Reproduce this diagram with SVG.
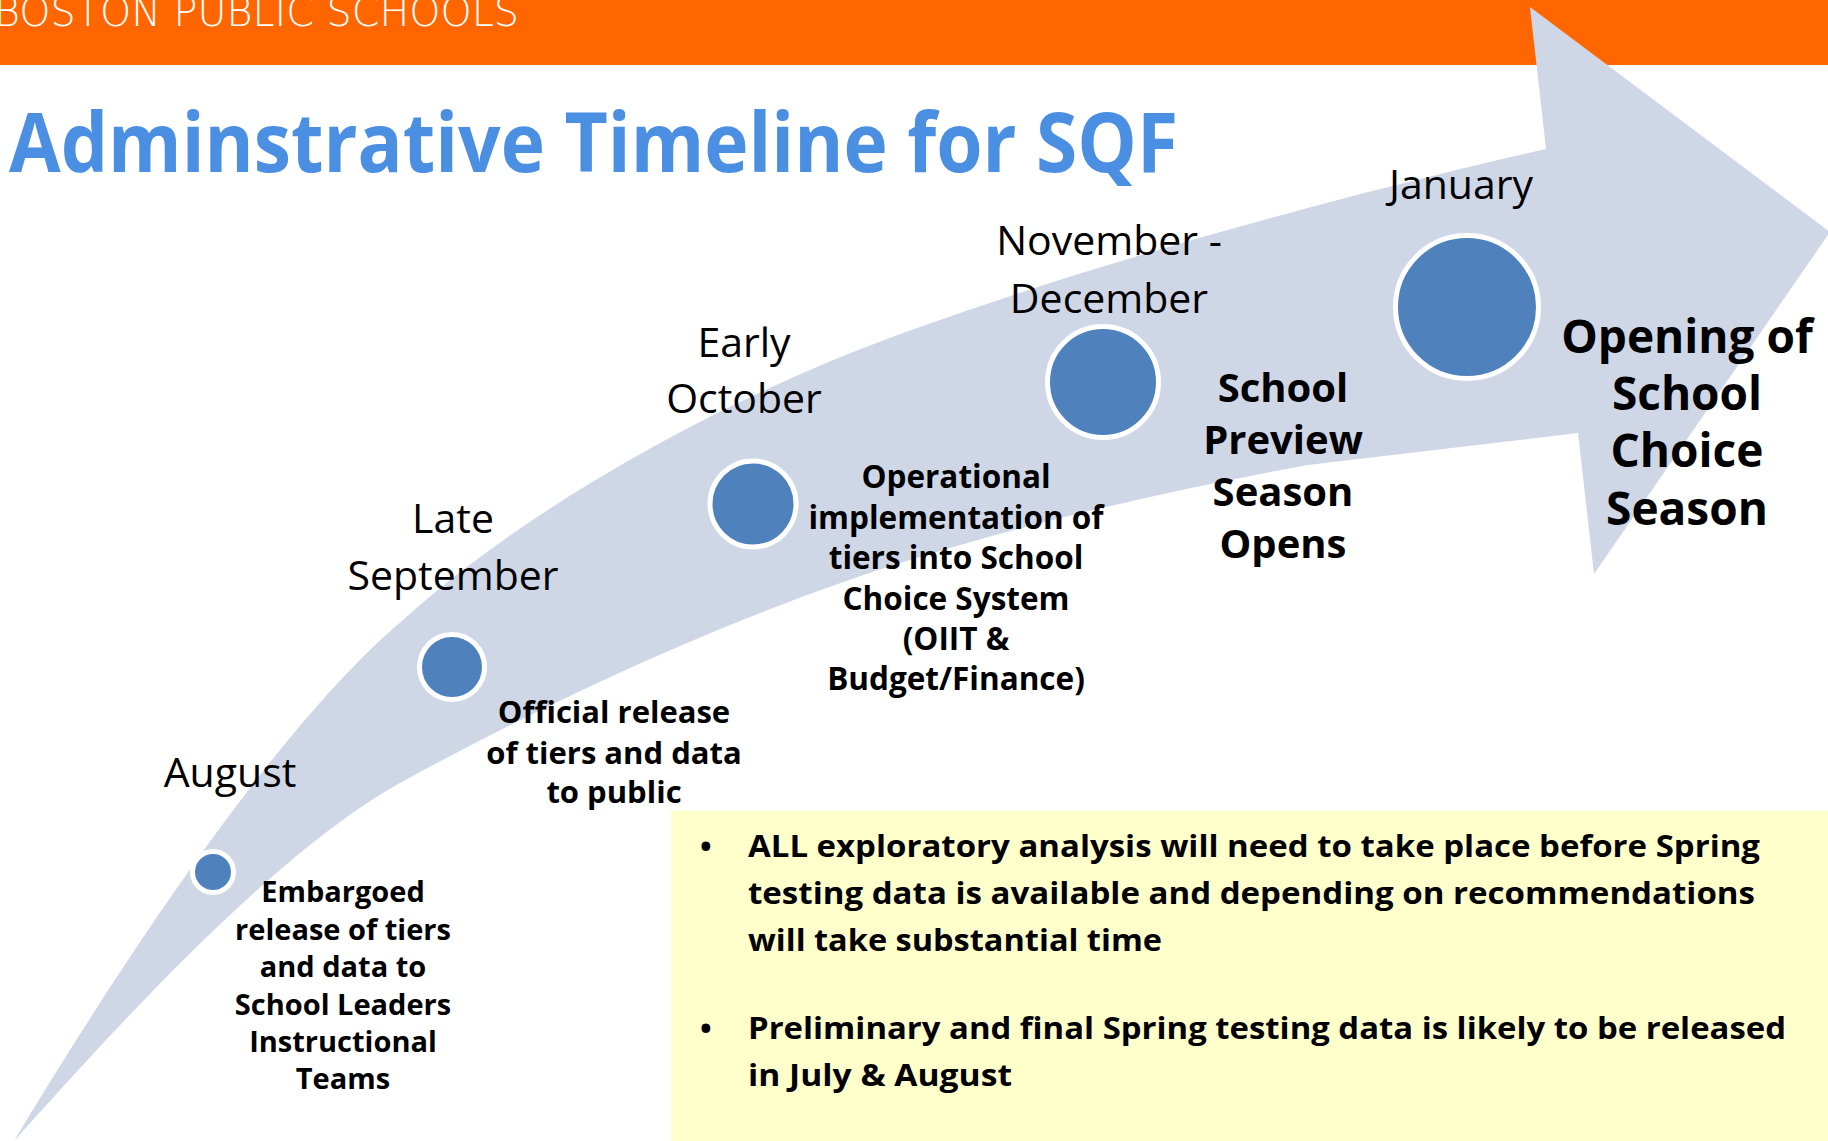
<svg xmlns="http://www.w3.org/2000/svg" width="1828" height="1141" viewBox="0 0 1828 1141">
<style>
.month{font-family:"Open Sans","Liberation Sans",sans-serif;font-size:41px;fill:#000;text-anchor:middle}
.desc{font-family:"Open Sans","Liberation Sans",sans-serif;font-weight:bold;fill:#000;text-anchor:middle}
.dot{fill:#4F81BD;stroke:#fff;stroke-width:5}
.note{font-family:"Open Sans","Liberation Sans",sans-serif;font-weight:bold;font-size:31px;fill:#000}
</style>
<rect x="0" y="0" width="1828" height="1141" fill="#fff"/>
<g id="header">
<rect x="0" y="0" width="1828" height="65" fill="#FF6600"/>
<text x="-6" y="26" font-family="DejaVu Sans, Liberation Sans, sans-serif" font-weight="200" font-size="40" fill="#fff" textLength="525" lengthAdjust="spacingAndGlyphs">BOSTON PUBLIC SCHOOLS</text>
</g>
<g id="timeline-arrow">
<path d="M14,1141 C84,1025 260,740 403,620 C543,494 750,386 920,327 C1100,262 1340,196 1546,149 L1530,7 L1830,232 L1594,574 L1578,433 L1308,465 C1180,488 1040,520 920,557 C750,608 550,700 400,783 C270,855 104,1041 14,1141 Z" fill="#CFD7E7"/>
</g>
<text id="title" x="9" y="172" font-family="Open Sans, Liberation Sans, sans-serif" font-weight="bold" font-size="83" fill="#4A8FE2" textLength="1169" lengthAdjust="spacingAndGlyphs">Adminstrative Timeline for SQF</text>
<g id="node-august">
<circle class="dot" cx="213" cy="872" r="20.5"/>
<text class="month" x="230" y="787">August</text>
<text class="desc" font-size="29" x="343"><tspan x="343" y="902">Embargoed</tspan><tspan x="343" y="940">release of tiers</tspan><tspan x="343" y="977">and data to</tspan><tspan x="343" y="1015">School Leaders</tspan><tspan x="343" y="1052">Instructional</tspan><tspan x="343" y="1089">Teams</tspan></text>
</g>
<g id="node-late-september">
<circle class="dot" cx="452" cy="667" r="32.5"/>
<text class="month"><tspan x="453" y="533">Late</tspan><tspan x="453" y="590">September</tspan></text>
<text class="desc" font-size="31"><tspan x="614" y="723">Official release</tspan><tspan x="614" y="764">of tiers and data</tspan><tspan x="614" y="803">to public</tspan></text>
</g>
<g id="node-early-october">
<circle class="dot" cx="753" cy="504" r="43"/>
<text class="month"><tspan x="744" y="357">Early</tspan><tspan x="744" y="413">October</tspan></text>
<text class="desc" font-size="31.5"><tspan x="956" y="488">Operational</tspan><tspan x="956" y="529">implementation of</tspan><tspan x="956" y="569">tiers into School</tspan><tspan x="956" y="610">Choice System</tspan><tspan x="956" y="650">(OIIT &amp;</tspan><tspan x="956" y="690">Budget/Finance)</tspan></text>
</g>
<g id="node-november-december">
<circle class="dot" cx="1103" cy="382" r="55.5"/>
<text class="month"><tspan x="1109" y="255">November -</tspan><tspan x="1109" y="313">December</tspan></text>
<text class="desc" font-size="40"><tspan x="1283" y="402">School</tspan><tspan x="1283" y="454">Preview</tspan><tspan x="1283" y="506">Season</tspan><tspan x="1283" y="558">Opens</tspan></text>
</g>
<g id="node-january">
<circle class="dot" cx="1467" cy="307" r="71.5"/>
<text class="month" x="1461" y="199">January</text>
<text class="desc" font-size="46"><tspan x="1687" y="353">Opening of</tspan><tspan x="1687" y="410">School</tspan><tspan x="1687" y="467">Choice</tspan><tspan x="1687" y="525">Season</tspan></text>
</g>
<g id="notes">
<rect x="671" y="811" width="1157" height="330" fill="#FFFFCC"/>
<text class="note" x="700" y="857">•</text>
<text class="note" x="748" y="857" textLength="1012" lengthAdjust="spacingAndGlyphs">ALL exploratory analysis will need to take place before Spring</text>
<text class="note" x="748" y="904" textLength="1007" lengthAdjust="spacingAndGlyphs">testing data is available and depending on recommendations</text>
<text class="note" x="748" y="951" textLength="414" lengthAdjust="spacingAndGlyphs">will take substantial time</text>
<text class="note" x="700" y="1039">•</text>
<text class="note" x="748" y="1039" textLength="1038" lengthAdjust="spacingAndGlyphs">Preliminary and final Spring testing data is likely to be released</text>
<text class="note" x="748" y="1086" textLength="264" lengthAdjust="spacingAndGlyphs">in July &amp; August</text>
</g>
</svg>
